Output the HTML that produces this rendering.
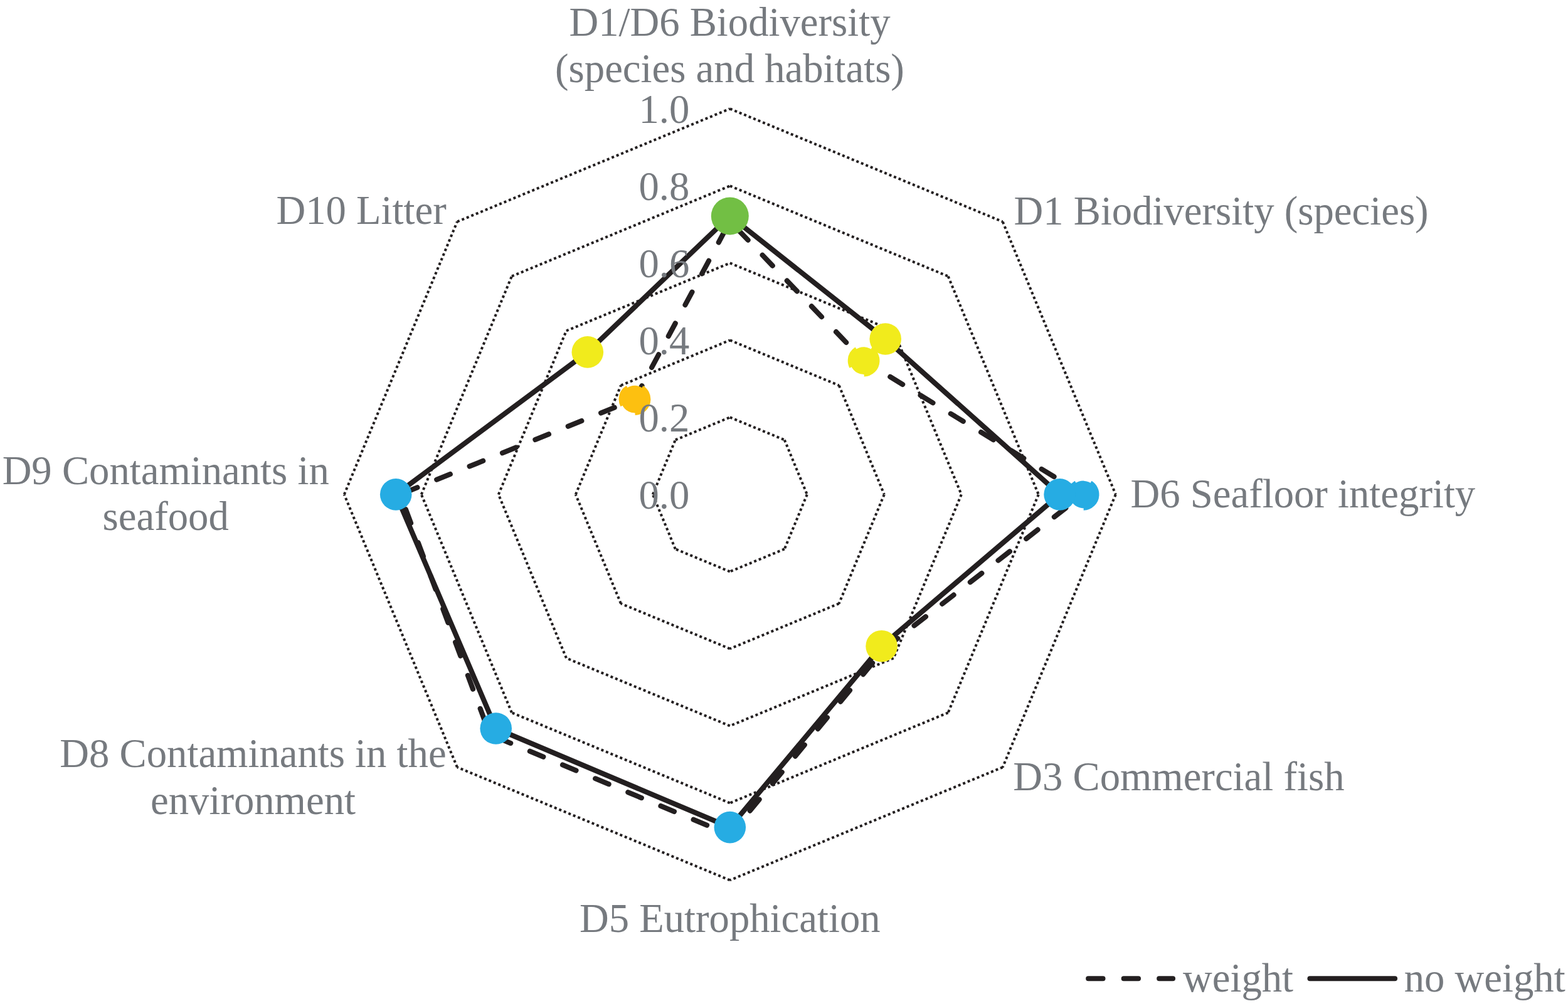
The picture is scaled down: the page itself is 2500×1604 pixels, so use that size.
<!DOCTYPE html>
<html lang="en">
<head>
<meta charset="utf-8">
<title>Radar chart</title>
<style>
html,body{margin:0;padding:0;background:#fff;}
body{width:2500px;height:1604px;overflow:hidden;}
svg{display:block;}
text{font-family:"Liberation Serif",serif;font-size:64.7px;fill:#767a7f;}
</style>
</head>
<body>
<svg width="2500" height="1604" viewBox="0 0 2500 1604">
<rect width="2500" height="1604" fill="#fff"/>
<g fill="none" stroke="#231f20" stroke-width="4.04" stroke-dasharray="4.04 4.04">
<path d="M1163.8 665.4L1250.8 701.4M1250.8 701.4L1286.8 788.4M1286.8 788.4L1250.8 875.4M1250.8 875.4L1163.8 911.4M1163.8 911.4L1076.8 875.4M1076.8 875.4L1040.8 788.4M1040.8 788.4L1076.8 701.4M1076.8 701.4L1163.8 665.4"/>
<path d="M1163.8 542.4L1337.7 614.5M1337.7 614.5L1409.8 788.4M1409.8 788.4L1337.7 962.3M1337.7 962.3L1163.8 1034.4M1163.8 1034.4L989.9 962.3M989.9 962.3L917.8 788.4M917.8 788.4L989.9 614.5M989.9 614.5L1163.8 542.4"/>
<path d="M1163.8 419.4L1424.7 527.5M1424.7 527.5L1532.8 788.4M1532.8 788.4L1424.7 1049.3M1424.7 1049.3L1163.8 1157.4M1163.8 1157.4L902.9 1049.3M902.9 1049.3L794.8 788.4M794.8 788.4L902.9 527.5M902.9 527.5L1163.8 419.4"/>
<path d="M1163.8 296.4L1511.7 440.5M1511.7 440.5L1655.8 788.4M1655.8 788.4L1511.7 1136.3M1511.7 1136.3L1163.8 1280.4M1163.8 1280.4L815.9 1136.3M815.9 1136.3L671.8 788.4M671.8 788.4L815.9 440.5M815.9 440.5L1163.8 296.4"/>
<path d="M1163.8 173.4L1598.7 353.5M1598.7 353.5L1778.8 788.4M1778.8 788.4L1598.7 1223.3M1598.7 1223.3L1163.8 1403.4M1163.8 1403.4L728.9 1223.3M728.9 1223.3L548.8 788.4M548.8 788.4L728.9 353.5M728.9 353.5L1163.8 173.4"/>
</g>
<path d="M1163.8 352.8L1377.1 575.1L1727.1 788.4L1409.9 1034.5L1163.8 1331.1L781.1 1171.1L638.0 788.4" fill="none" stroke="#231f20" stroke-width="8.1" stroke-linecap="round" stroke-linejoin="round" stroke-dasharray="23.30 33.23" stroke-dashoffset="-18.30"/>
<path d="M638.0 788.4L1012.0 636.6" fill="none" stroke="#231f20" stroke-width="8.1" stroke-linecap="round" stroke-linejoin="round" stroke-dasharray="23.30 33.23" stroke-dashoffset="50.22"/>
<path d="M1012.0 636.6L1163.8 352.8" fill="none" stroke="#231f20" stroke-width="8.1" stroke-linecap="round" stroke-linejoin="round" stroke-dasharray="23.30 33.23" stroke-dashoffset="-0.99"/>
<circle cx="1377.1" cy="575.1" r="21.8" fill="#f1eb1c" stroke="#f1eb1c" stroke-width="7.2" stroke-dasharray="32.3 24.2" transform="rotate(3 1377.1 575.1)"/>
<circle cx="1727.1" cy="788.4" r="21.8" fill="#26ace3" stroke="#26ace3" stroke-width="7.2" stroke-dasharray="32.3 24.2" transform="rotate(3 1727.1 788.4)"/>
<circle cx="1012.0" cy="636.6" r="21.8" fill="#fdc010" stroke="#fdc010" stroke-width="7.2" stroke-dasharray="32.3 24.2" transform="rotate(3 1012.0 636.6)"/>
<polygon points="1163.8,344.4 1411.7,540.5 1689.6,788.4 1405.6,1030.2 1163.8,1319.1 790.7,1161.5 631.2,788.4 936.8,561.4" fill="none" stroke="#231f20" stroke-width="8.1" stroke-linejoin="round"/>
<circle cx="1163.8" cy="344.4" r="30" fill="#72bf44"/>
<circle cx="1411.7" cy="540.5" r="25.3" fill="#f1eb1c"/>
<circle cx="1689.6" cy="788.4" r="25.3" fill="#26ace3"/>
<circle cx="1405.6" cy="1030.2" r="25.3" fill="#f1eb1c"/>
<circle cx="1163.8" cy="1319.1" r="25.3" fill="#26ace3"/>
<circle cx="790.7" cy="1161.5" r="25.3" fill="#26ace3"/>
<circle cx="631.2" cy="788.4" r="25.3" fill="#26ace3"/>
<circle cx="936.8" cy="561.4" r="25.3" fill="#f1eb1c"/>
<text x="1099.3" y="811.1" text-anchor="end">0.0</text>
<text x="1099.3" y="688.1" text-anchor="end">0.2</text>
<text x="1099.3" y="565.1" text-anchor="end">0.4</text>
<text x="1099.3" y="442.1" text-anchor="end">0.6</text>
<text x="1099.3" y="319.1" text-anchor="end">0.8</text>
<text x="1099.3" y="196.1" text-anchor="end">1.0</text>
<text x="1163.5" y="57.4" text-anchor="middle">D1/D6 Biodiversity</text>
<text x="1163.5" y="131" text-anchor="middle">(species and habitats)</text>
<text x="1616.5" y="357.6" text-anchor="start">D1 Biodiversity (species)</text>
<text x="1802.5" y="808.8" text-anchor="start">D6 Seafloor integrity</text>
<text x="1615.3" y="1260.4" text-anchor="start">D3 Commercial fish</text>
<text x="1163.8" y="1485.6" text-anchor="middle">D5 Eutrophication</text>
<text x="403.5" y="1223.3" text-anchor="middle">D8 Contaminants in the</text>
<text x="403.5" y="1298.0" text-anchor="middle">environment</text>
<text x="264.2" y="772.3" text-anchor="middle">D9 Contaminants in</text>
<text x="264.2" y="845.4" text-anchor="middle">seafood</text>
<text x="711.7" y="356.7" text-anchor="end">D10 Litter</text>
<text x="1886.0" y="1580.8" text-anchor="start">weight</text>
<text x="2238.7" y="1580.8" text-anchor="start">no weight</text>
<path d="M1735.2 1560.2H1870" fill="none" stroke="#231f20" stroke-width="8.1" stroke-linecap="round" stroke-dasharray="23.3 33.2"/>
<path d="M2088.5 1560.2H2224" fill="none" stroke="#231f20" stroke-width="8.1" stroke-linecap="round"/>
</svg>
</body>
</html>
